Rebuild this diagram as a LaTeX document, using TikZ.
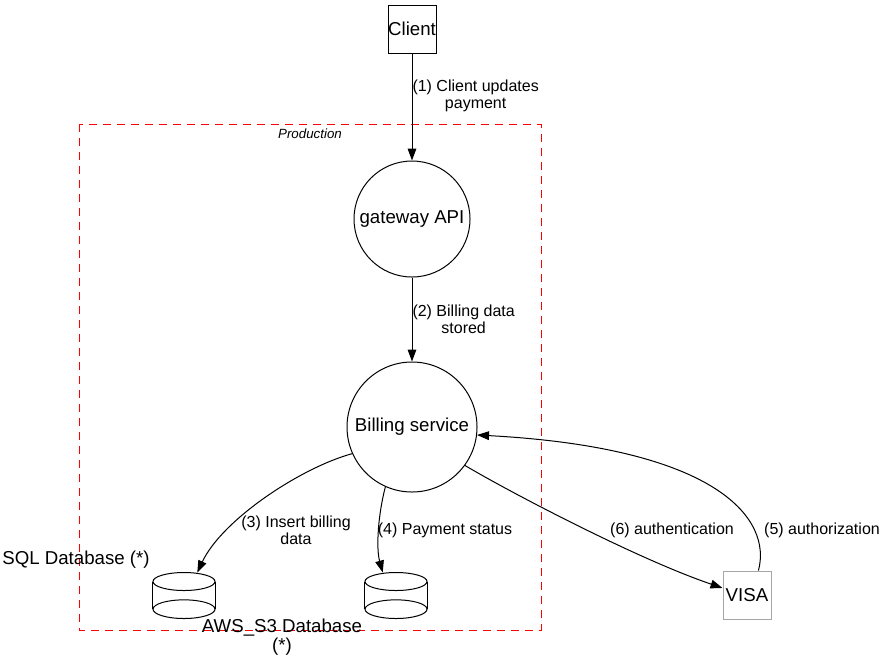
\documentclass[tikz,border=0pt]{standalone}
\usepackage{fontspec}
\setmainfont{Liberation Sans}
\usetikzlibrary{arrows.meta,positioning}

% drum shape drawn over an empty node
\newcommand{\dbdrum}[1]{%
  \draw ([yshift=-6.75pt]#1.north) ellipse [x radius=23.25pt, y radius=6.75pt];
  \draw ([yshift=7pt]#1.south) ellipse [x radius=23.25pt, y radius=7pt];
  \draw ([yshift=-6.75pt]#1.north west) -- ([yshift=7pt]#1.south west);
  \draw ([yshift=-6.75pt]#1.north east) -- ([yshift=7pt]#1.south east);
}

\begin{document}
\begin{tikzpicture}[x=0.75pt,y=-0.75pt,>={Triangle[length=9pt,width=6.5pt]},line width=0.75pt,
  every node/.style={font=\fontsize{14}{14.25}\selectfont},
  box/.style={draw,rectangle,minimum size=36pt,inner sep=0pt},
  svc/.style={draw,circle,inner sep=0pt},
  db/.style={rectangle,minimum width=46.5pt,minimum height=33.75pt,inner sep=0pt},
  elabel/.style={font=\fontsize{12}{12.75}\selectfont,align=center,inner sep=0pt}]

\useasboundingbox (0,0) rectangle (887,665);

% cluster
\draw[red,dash pattern=on 6pt off 4.5pt] (79,124) rectangle (541,630);
\node[font=\fontsize{10}{12}\selectfont\itshape] (prod) at (310,134) {Production};

\node[box] (client) at (412,29) {Client};
\node[svc,minimum size=87pt] (gw) [below=80.25pt of client] {gateway API};
\node[svc,minimum size=97.5pt] (billing) [below=63pt of gw] {Billing service};

\node[db] (sqldb) at (184,595.5) {};
\node[db] (s3db) at (396,595.5) {};
\dbdrum{sqldb}
\dbdrum{s3db}
\node[box,draw=black!35] (visa) at (747,595) {VISA};

\node (sqllbl) at (76,560) {SQL Database (*)};
\node[align=center] (s3lbl) at (282,637) {AWS\_S3 Database\\(*)};

\draw[->] (client) -- (gw) node [pos=0.4,right,elabel] {(1) Client updates\\payment};
\draw[->] (gw) -- (billing) node [midway,right,elabel] {(2) Billing data\\stored};
\draw[->] (billing.204) .. controls (300,468) and (222,520) .. (sqldb.60);
\draw[->] (billing.246) .. controls (378,515) and (376,548) .. (s3db.120);
\draw[->] (billing.324) .. controls (515,495) and (640,560) .. (visa.164);
\draw[->] (visa.65) .. controls (772,520) and (720,448) .. (billing.353);

\node[elabel] (l3) at (296,530) {(3) Insert billing\\data};
\node[elabel] (l4) at (445,530) {(4) Payment status};
\node[elabel] (l6) at (672,530) {(6) authentication};
\node[elabel] (l5) at (822,530) {(5) authorization};

\end{tikzpicture}
\end{document}
